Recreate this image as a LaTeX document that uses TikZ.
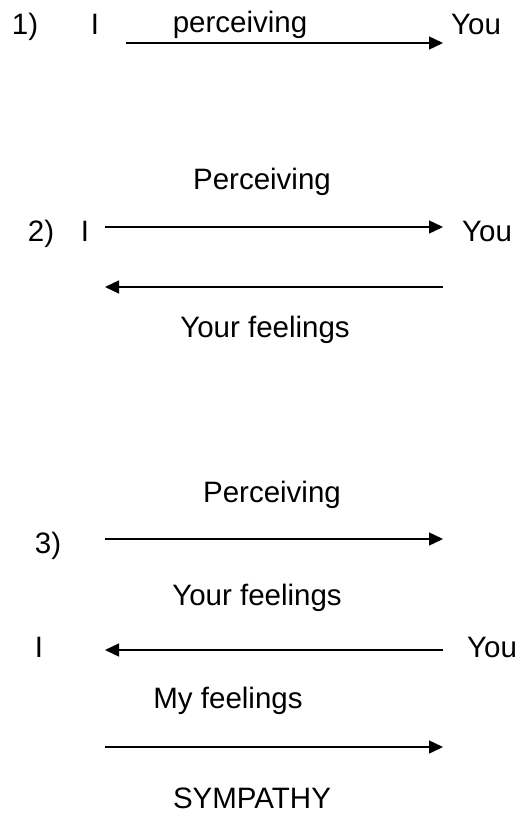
\documentclass[tikz,border=0pt]{standalone}
\usepackage{fontspec}
\setmainfont{Liberation Sans}
\usetikzlibrary{arrows.meta}
\begin{document}
\begin{tikzpicture}[x=1pt,y=-1pt,
  txt/.style={anchor=base,inner sep=0pt,font=\fontsize{29.5}{34}\selectfont},
  arr/.style={line width=1.4pt,-{Triangle[length=14pt,width=13pt]}}]
  \useasboundingbox (0,0) rectangle (521,816);

  % Row 1
  \node[txt] (num1) at (25,35) {1)};
  \node[txt] (i1) at (95,35) {I};
  \node[txt] (perc1) at (240,33) {perceiving};
  \node[txt] (you1) at (476,35) {You};
  \coordinate (a1s) at (126,43);
  \coordinate (a1e) at (443,43);
  \draw[arr] (a1s) -- (a1e);

  % Row 2
  \node[txt] (perc2) at (262,189) {Perceiving};
  \node[txt] (num2) at (41,241) {2)};
  \node[txt] (i2) at (85,241) {I};
  \node[txt] (you2) at (487,241) {You};
  \node[txt] (feel2) at (265,337) {Your feelings};
  \coordinate (a2s) at (105,227);
  \coordinate (a2e) at (443,227);
  \coordinate (b2s) at (443,287);
  \coordinate (b2e) at (105,287);
  \draw[arr] (a2s) -- (a2e);
  \draw[arr] (b2s) -- (b2e);

  % Row 3
  \node[txt] (perc3) at (272,502) {Perceiving};
  \node[txt] (num3) at (48,553) {3)};
  \node[txt] (feel3) at (257,605) {Your feelings};
  \node[txt] (i3) at (39,657) {I};
  \node[txt] (you3) at (492,657) {You};
  \node[txt] (mine3) at (228,708) {My feelings};
  \node[txt] (symp) at (252,808) {SYMPATHY};
  \coordinate (a3s) at (105,539);
  \coordinate (a3e) at (443,539);
  \coordinate (b3s) at (443,650);
  \coordinate (b3e) at (105,650);
  \coordinate (c3s) at (105,747);
  \coordinate (c3e) at (443,747);
  \draw[arr] (a3s) -- (a3e);
  \draw[arr] (b3s) -- (b3e);
  \draw[arr] (c3s) -- (c3e);
\end{tikzpicture}
\end{document}
